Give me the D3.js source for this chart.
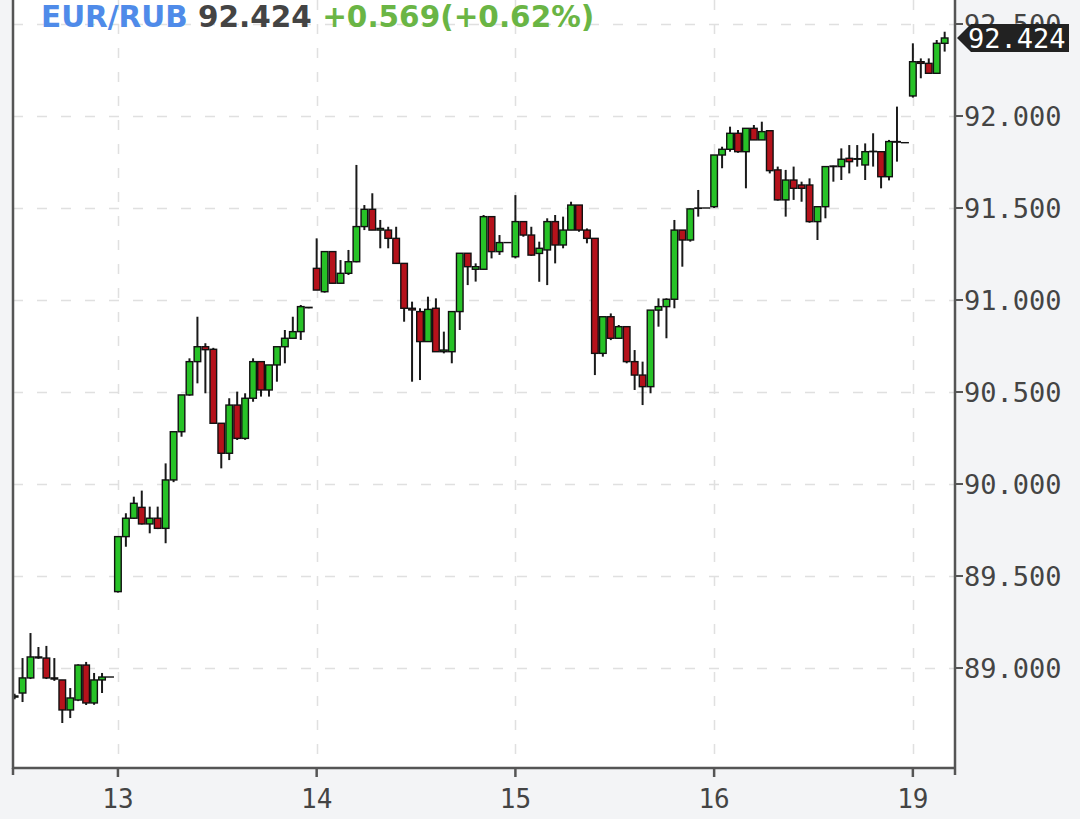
<!DOCTYPE html>
<html>
<head>
<meta charset="utf-8">
<script src="https://cdn.jsdelivr.net/npm/d3@7"></script>
<style>
  html, body { margin: 0; padding: 0; background: #f3f4f6; }
  svg { display: block; }
</style>
</head>
<body>
<svg id="chart" width="1080" height="819"></svg>
<script>
// ---------------- DATA ----------------
const symbol = "EUR/RUB";
const dayLabels = ["12", "13", "14", "15", "16", "19"];
const slotsPerDay = 25;
const dayStartSlot = [12, 0, 0, 0, 0, 0];
const yTickValues = [89.0, 89.5, 90.0, 90.5, 91.0, 91.5, 92.0, 92.5];

// [open, high, low, close]
const day12 = [
  [88.842, 88.860, 88.830, 88.848],
  [88.864, 89.054, 88.815, 88.946],
  [88.946, 89.190, 88.940, 89.060],
  [89.060, 89.114, 89.050, 89.055],
  [89.054, 89.120, 88.940, 88.946],
  [88.946, 89.054, 88.930, 88.940],
  [88.935, 88.935, 88.701, 88.772],
  [88.772, 88.891, 88.728, 88.837],
  [88.826, 89.020, 88.820, 89.016],
  [89.016, 89.033, 88.799, 88.810],
  [88.810, 88.973, 88.800, 88.935],
  [88.935, 88.973, 88.864, 88.951],
  [88.951, 88.951, 88.951, 88.951]
];
const day13 = [
  [89.415, 89.714, 89.410, 89.714],
  [89.714, 89.841, 89.659, 89.814],
  [89.814, 89.931, 89.810, 89.895],
  [89.873, 89.964, 89.780, 89.783],
  [89.783, 89.877, 89.732, 89.814],
  [89.814, 89.877, 89.755, 89.759],
  [89.759, 90.112, 89.678, 90.022],
  [90.022, 90.284, 90.010, 90.284],
  [90.284, 90.484, 90.257, 90.484],
  [90.484, 90.683, 90.480, 90.665],
  [90.665, 90.909, 90.547, 90.746],
  [90.746, 90.765, 90.493, 90.730],
  [90.732, 90.740, 90.330, 90.330],
  [90.330, 90.330, 90.085, 90.167],
  [90.167, 90.466, 90.130, 90.429],
  [90.429, 90.502, 90.239, 90.248],
  [90.248, 90.493, 90.240, 90.466],
  [90.466, 90.683, 90.447, 90.665],
  [90.665, 90.665, 90.475, 90.511],
  [90.511, 90.647, 90.475, 90.647],
  [90.647, 90.746, 90.556, 90.746],
  [90.746, 90.837, 90.656, 90.792],
  [90.792, 90.909, 90.790, 90.828],
  [90.828, 90.973, 90.783, 90.964],
  [90.960, 90.960, 90.955, 90.958]
];
const day14 = [
  [91.172, 91.335, 91.054, 91.054],
  [91.045, 91.263, 91.040, 91.263],
  [91.263, 91.263, 91.090, 91.091],
  [91.091, 91.217, 91.090, 91.145],
  [91.145, 91.272, 91.136, 91.208],
  [91.208, 91.734, 91.205, 91.399],
  [91.399, 91.516, 91.380, 91.493],
  [91.493, 91.580, 91.380, 91.380],
  [91.380, 91.435, 91.281, 91.389],
  [91.380, 91.398, 91.281, 91.335],
  [91.335, 91.398, 91.199, 91.199],
  [91.199, 91.199, 90.882, 90.955],
  [90.955, 90.991, 90.556, 90.946],
  [90.937, 90.955, 90.565, 90.774],
  [90.774, 91.018, 90.774, 90.949],
  [90.955, 91.009, 90.719, 90.719],
  [90.719, 90.828, 90.710, 90.728],
  [90.719, 90.937, 90.656, 90.937],
  [90.937, 91.254, 90.837, 91.254],
  [91.254, 91.254, 91.081, 91.181],
  [91.167, 91.199, 91.100, 91.181],
  [91.167, 91.462, 91.163, 91.453],
  [91.453, 91.453, 91.226, 91.263],
  [91.263, 91.353, 91.245, 91.312],
  [91.312, 91.312, 91.312, 91.312]
];
const day15 = [
  [91.235, 91.570, 91.226, 91.426],
  [91.426, 91.426, 91.344, 91.353],
  [91.353, 91.398, 91.240, 91.244],
  [91.253, 91.317, 91.099, 91.281],
  [91.272, 91.444, 91.081, 91.426],
  [91.426, 91.462, 91.199, 91.299],
  [91.299, 91.453, 91.281, 91.380],
  [91.380, 91.534, 91.380, 91.516],
  [91.516, 91.516, 91.371, 91.380],
  [91.380, 91.389, 91.308, 91.335],
  [91.335, 91.335, 90.592, 90.710],
  [90.710, 90.909, 90.692, 90.909],
  [90.909, 90.927, 90.782, 90.792],
  [90.792, 90.864, 90.790, 90.855],
  [90.855, 90.855, 90.656, 90.665],
  [90.665, 90.728, 90.511, 90.592],
  [90.592, 90.665, 90.429, 90.529],
  [90.529, 90.945, 90.493, 90.945],
  [90.945, 91.009, 90.855, 90.964],
  [90.964, 91.009, 90.792, 91.004],
  [91.004, 91.435, 90.955, 91.380],
  [91.380, 91.380, 91.181, 91.326],
  [91.326, 91.498, 91.317, 91.495],
  [91.498, 91.598, 91.453, 91.500],
  [91.500, 91.500, 91.500, 91.500]
];
const day16 = [
  [91.507, 91.788, 91.500, 91.788],
  [91.788, 91.833, 91.716, 91.819],
  [91.819, 91.942, 91.806, 91.906],
  [91.906, 91.924, 91.800, 91.806],
  [91.806, 91.933, 91.607, 91.933],
  [91.933, 91.951, 91.870, 91.870],
  [91.870, 91.969, 91.870, 91.915],
  [91.920, 91.920, 91.688, 91.703],
  [91.707, 91.725, 91.540, 91.544],
  [91.544, 91.707, 91.453, 91.652],
  [91.652, 91.725, 91.544, 91.607],
  [91.625, 91.643, 91.534, 91.607],
  [91.625, 91.661, 91.420, 91.426],
  [91.426, 91.507, 91.326, 91.507],
  [91.507, 91.725, 91.444, 91.725],
  [91.725, 91.730, 91.643, 91.728],
  [91.725, 91.824, 91.652, 91.765],
  [91.770, 91.842, 91.688, 91.752],
  [91.765, 91.842, 91.725, 91.768],
  [91.734, 91.851, 91.652, 91.806],
  [91.806, 91.906, 91.725, 91.808],
  [91.806, 91.806, 91.607, 91.670],
  [91.670, 91.870, 91.650, 91.861],
  [91.861, 92.051, 91.752, 91.858],
  [91.855, 91.855, 91.855, 91.855]
];
const day19 = [
  [92.109, 92.395, 92.100, 92.295],
  [92.295, 92.313, 92.205, 92.286],
  [92.286, 92.313, 92.230, 92.232],
  [92.232, 92.413, 92.230, 92.395],
  [92.395, 92.458, 92.350, 92.424]
];
const days = [day12, day13, day14, day15, day16, day19];

// ---------------- BUILD ----------------
const candles = [];
days.forEach((arr, d) => {
  arr.forEach((v, i) => {
    candles.push({ g: d * slotsPerDay + dayStartSlot[d] + i, o: v[0], h: v[1], l: v[2], c: v[3] });
  });
});
const last = candles[candles.length - 1];
const prevClose = day16[day16.length - 1][3];
const change = last.c - prevClose;
const changePct = change / prevClose * 100;

const W = 1080, H = 819;
const plot = { left: 13, right: 955, top: 0, bottom: 768 };

const svg = d3.select("#chart");
svg.append("rect").attr("width", W).attr("height", H).attr("fill", "#f3f4f6");
svg.append("rect")
  .attr("x", plot.left).attr("y", plot.top)
  .attr("width", plot.right - plot.left).attr("height", plot.bottom - plot.top)
  .attr("fill", "#ffffff");

const x = d3.scaleLinear().domain([11.8, 130.3]).range([plot.left, plot.right]);
const y = d3.scaleLinear().domain([88.4565, 92.6304]).range([plot.bottom, plot.top]);

const dayTicks = dayLabels.map((lab, d) => ({ lab, g: d * slotsPerDay }))
  .filter(t => x(t.g) >= plot.left && x(t.g) <= plot.right);

// grid
const grid = svg.append("g");
grid.selectAll("line.h").data(yTickValues).enter().append("line")
  .attr("x1", plot.left).attr("x2", plot.right)
  .attr("y1", d => Math.round(y(d)) + 0.5).attr("y2", d => Math.round(y(d)) + 0.5)
  .attr("stroke", "#e0e0e0").attr("stroke-width", 1.5).attr("stroke-dasharray", "10,14");
grid.selectAll("line.v").data(dayTicks).enter().append("line")
  .attr("x1", d => Math.round(x(d.g)) + 0.5).attr("x2", d => Math.round(x(d.g)) + 0.5)
  .attr("y1", plot.top).attr("y2", plot.bottom)
  .attr("stroke", "#e0e0e0").attr("stroke-width", 1.5).attr("stroke-dasharray", "10,14");

// clip
svg.append("clipPath").attr("id", "clip").append("rect")
  .attr("x", plot.left + 1).attr("y", plot.top)
  .attr("width", plot.right - plot.left - 2).attr("height", plot.bottom - plot.top);

const cg = svg.append("g").attr("clip-path", "url(#clip)");
const bw = 6.6;
const cs = cg.selectAll("g.c").data(candles).enter().append("g");
cs.append("line")
  .attr("x1", d => x(d.g)).attr("x2", d => x(d.g))
  .attr("y1", d => y(d.h)).attr("y2", d => y(d.l))
  .attr("stroke", "#1a1a1a").attr("stroke-width", 2);
cs.append("rect")
  .attr("x", d => x(d.g) - bw / 2)
  .attr("y", d => y(Math.max(d.o, d.c)))
  .attr("width", bw)
  .attr("height", d => Math.max(0.01, Math.abs(y(d.o) - y(d.c))))
  .attr("fill", d => d.c >= d.o ? "#27c227" : "#b5121b")
  .attr("stroke", "#111").attr("stroke-width", 1.4);

// axes lines
const axisColor = "#555";
svg.append("line").attr("x1", plot.left).attr("x2", plot.left)
  .attr("y1", plot.top).attr("y2", plot.bottom + 1)
  .attr("stroke", axisColor).attr("stroke-width", 2.5);
svg.append("line").attr("x1", plot.left).attr("x2", plot.right + 1)
  .attr("y1", plot.bottom).attr("y2", plot.bottom)
  .attr("stroke", axisColor).attr("stroke-width", 2.5);
svg.append("line").attr("x1", plot.right).attr("x2", plot.right)
  .attr("y1", plot.top).attr("y2", plot.bottom + 7)
  .attr("stroke", axisColor).attr("stroke-width", 2.5);
svg.append("line").attr("x1", plot.left).attr("x2", plot.left)
  .attr("y1", plot.bottom).attr("y2", plot.bottom + 7)
  .attr("stroke", axisColor).attr("stroke-width", 2.5);

// x ticks & labels
const xt = svg.append("g");
xt.selectAll("line").data(dayTicks).enter().append("line")
  .attr("x1", d => x(d.g)).attr("x2", d => x(d.g))
  .attr("y1", plot.bottom).attr("y2", plot.bottom + 9)
  .attr("stroke", axisColor).attr("stroke-width", 2.5);
xt.selectAll("text").data(dayTicks).enter().append("text")
  .attr("x", d => x(d.g)).attr("y", 808)
  .attr("text-anchor", "middle")
  .attr("font-family", "DejaVu Sans Mono")
  .attr("font-size", 26)
  .attr("fill", "#444")
  .text(d => d.lab);

// y ticks & labels
const fmt = d3.format(".3f");
const yt = svg.append("g");
yt.selectAll("line").data(yTickValues).enter().append("line")
  .attr("x1", plot.right).attr("x2", plot.right + 8)
  .attr("y1", d => y(d)).attr("y2", d => y(d))
  .attr("stroke", axisColor).attr("stroke-width", 2);
yt.selectAll("text").data(yTickValues).enter().append("text")
  .attr("x", 964).attr("y", d => y(d) + 10)
  .attr("font-family", "DejaVu Sans Mono")
  .attr("font-size", 27)
  .attr("fill", "#444")
  .text(d => fmt(d));

// last price label
const ly = y(last.c);
svg.append("path")
  .attr("d", `M957,${ly} L971,${ly - 14} L1069,${ly - 14} L1069,${ly + 14} L971,${ly + 14} Z`)
  .attr("fill", "#222");
svg.append("text")
  .attr("x", 968).attr("y", ly + 10)
  .attr("font-family", "DejaVu Sans Mono")
  .attr("font-size", 27)
  .attr("fill", "#ffffff")
  .text(fmt(last.c));

// title
const title = svg.append("text")
  .attr("x", 41).attr("y", 27)
  .attr("font-family", "DejaVu Sans")
  .attr("font-weight", "bold")
  .attr("font-size", 29.5);
title.append("tspan").attr("fill", "#4f8be9").text(symbol + " ");
title.append("tspan").attr("fill", "#444444").text(fmt(last.c) + " ");
title.append("tspan").attr("fill", "#6ab545")
  .text((change >= 0 ? "+" : "") + fmt(change) + "(" + (changePct >= 0 ? "+" : "") + changePct.toFixed(2) + "%)");
</script>
</body>
</html>
